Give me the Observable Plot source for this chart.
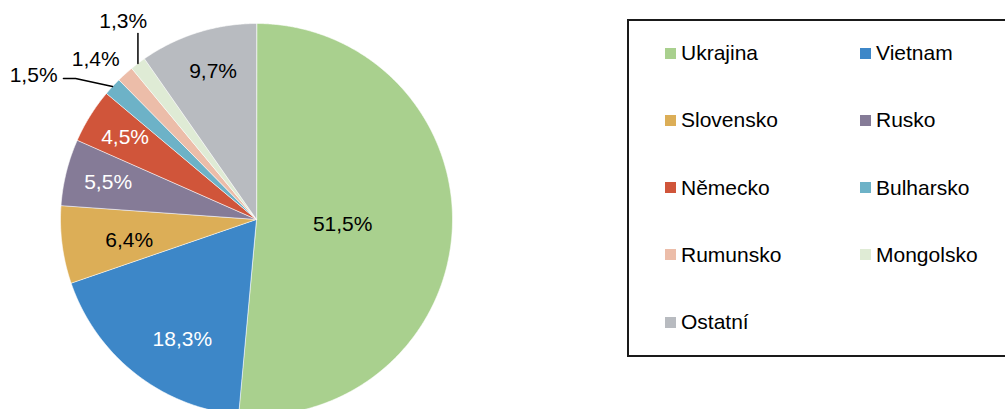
<!DOCTYPE html>
<html>
<head>
<meta charset="utf-8">
<script src="https://cdn.jsdelivr.net/npm/d3@7"></script>
<script src="https://cdn.jsdelivr.net/npm/@observablehq/plot@0.6"></script>
<style>
  html, body { margin: 0; padding: 0; background: #fff; }
  body { width: 1005px; height: 409px; overflow: hidden; position: relative; font-family: "Liberation Sans", Arial, sans-serif; }
  #legend { position: absolute; left: 627px; top: 19px; width: 420px; height: 334px; border: 2px solid #1a1a1a; box-sizing: content-box; }
  .item { position: absolute; display: flex; align-items: center; font-size: 21px; color: #000; white-space: nowrap; }
  .sw { width: 11px; height: 11px; margin-right: 5px; }
</style>
</head>
<body>
<div id="chart"></div>
<div id="legend"></div>
<script>
// ---- data ----
const countries = ["Ukrajina", "Vietnam", "Slovensko", "Rusko", "Německo", "Bulharsko", "Rumunsko", "Mongolsko", "Ostatní"];
const shares = [51.5, 18.3, 6.4, 5.5, 4.5, 1.5, 1.4, 1.3, 9.7];
const labels = ["51,5%", "18,3%", "6,4%", "5,5%", "4,5%", "1,5%", "1,4%", "1,3%", "9,7%"];
const colors = ["#a9d08e", "#3d87c8", "#dcae57", "#857b97", "#d0553a", "#6db2c7", "#ecbda9", "#dfebd5", "#b8bbc0"];

// ---- layout (not data) ----
const W = 1005, H = 409;
const cx = 256, cy = 219, R = 196;
const inside = {
  0: {r: 0.44, fill: "#000", dx: 0, dy: 1},
  1: {r: 0.72, fill: "#fff", dx: 13, dy: 9},
  2: {r: 0.66, fill: "#000", dx: 1, dy: 4},
  3: {r: 0.78, fill: "#fff", dx: 0, dy: 0},
  4: {r: 0.79, fill: "#fff", dx: 0, dy: 0},
  8: {r: 0.79, fill: "#000", dx: 3, dy: -1}
};

const pie = d3.pie().sort(null).value(d => d)(shares);
const polys = [];
pie.forEach((p, i) => {
  polys.push({name: countries[i], x: 0, y: 0});
  const n = Math.max(4, Math.ceil((p.endAngle - p.startAngle) / 0.005));
  for (let k = 0; k <= n; k++) {
    const a = p.startAngle + (p.endAngle - p.startAngle) * k / n;
    polys.push({name: countries[i], x: Math.sin(a), y: Math.cos(a)});
  }
});
const mid = i => (pie[i].startAngle + pie[i].endAngle) / 2;
const edge = i => [Math.sin(mid(i)), Math.cos(mid(i))];

const inLabels = Object.keys(inside).map(Number).map(i => ({
  text: labels[i], fill: inside[i].fill,
  x: inside[i].r * Math.sin(mid(i)) + inside[i].dx / R,
  y: inside[i].r * Math.cos(mid(i)) - inside[i].dy / R
}));

// outside labels for small slices
const e5 = edge(5), e7 = edge(7);
const outLabels = [
  {text: labels[5], x: -1.015, y: 0.735, anchor: "end"},
  {text: labels[6], x: -0.82, y: 0.82, anchor: "middle"},
  {text: labels[7], x: -0.68, y: 1.01, anchor: "middle"}
];
const leaders = [
  {id: 5, x: e5[0], y: e5[1]}, {id: 5, x: -0.923, y: 0.719}, {id: 5, x: -0.985, y: 0.719},
  {id: 7, x: e7[0], y: e7[1]}, {id: 7, x: e7[0], y: 0.949}
];

const chart = Plot.plot({
  width: W, height: H,
  margin: 0,
  x: {domain: [-1, 1], range: [cx - R, cx + R], axis: null},
  y: {domain: [-1, 1], range: [cy + R, cy - R], axis: null},
  color: {domain: countries, range: colors},
  style: {fontFamily: "Liberation Sans, Arial, sans-serif", background: "#fff"},
  marks: [
    Plot.line(polys, {x: "x", y: "y", z: "name", fill: "name", stroke: "#fff", strokeWidth: 0.6, curve: "linear-closed"}),
    Plot.text(inLabels, {x: "x", y: "y", text: "text", fill: "fill", fontSize: 21}),
    Plot.line(leaders, {x: "x", y: "y", z: "id", stroke: "#000", strokeWidth: 1.5}),
    Plot.text(outLabels, {x: "x", y: "y", text: "text", fill: "#000", fontSize: 21})
  ]
});
document.getElementById("chart").appendChild(chart);
// per-label anchors for the outside labels
chart.querySelectorAll("g[aria-label='text']").forEach((g, gi) => {
  if (gi === 1) {
    g.querySelectorAll("text").forEach((t, k) => t.setAttribute("text-anchor", outLabels[k].anchor));
  }
});

// legend
const lg = document.getElementById("legend");
countries.forEach((c, i) => {
  const row = Math.floor(i / 2), col = i % 2;
  const d = document.createElement("div");
  d.className = "item";
  d.style.left = (665 - 629 + col * 195) + "px";
  d.style.top = (53 - 21 - 12 + row * 67.25) + "px";
  d.style.height = "24px";
  d.innerHTML = `<span class="sw" style="background:${colors[i]}"></span><span>${c}</span>`;
  lg.appendChild(d);
});
</script>
</body>
</html>
